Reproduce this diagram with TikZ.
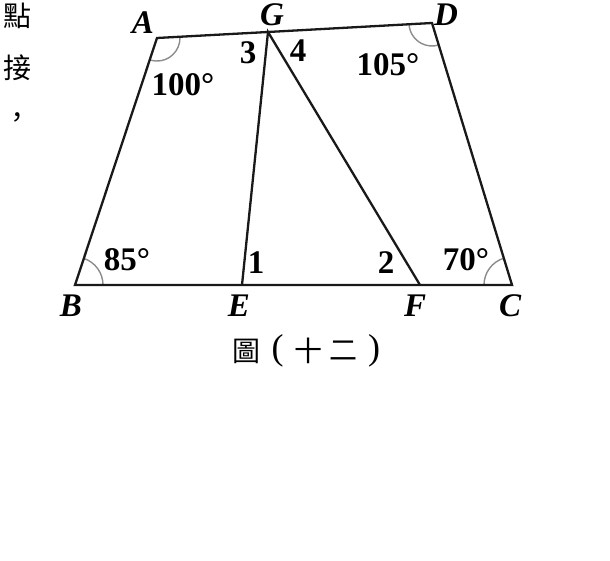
\documentclass[tikz,border=0pt]{standalone}
\usepackage{fontspec}
\setmainfont{Liberation Serif}
\newfontfamily\cjk{Noto Sans CJK TC}
\usetikzlibrary{angles}
\begin{document}
\begin{tikzpicture}[x=1pt,y=1pt,
  edge/.style={line width=2.3pt,black!90,line join=miter},
  arcmark/.style={draw=black!45,line width=1.4pt},
  num/.style={font=\fontsize{33}{33}\selectfont\bfseries,inner sep=0pt},
  vlabel/.style={font=\fontsize{33}{33}\selectfont\bfseries\itshape,inner sep=0pt},
  cjktext/.style={font=\cjk\fontsize{28}{28}\selectfont,inner sep=0pt},
  paren/.style={font=\fontsize{36}{36}\selectfont,inner sep=0pt}]
\useasboundingbox (0,0) rectangle (610,560);
\coordinate (A) at (157,522);
\coordinate (G) at (268,528);
\coordinate (D) at (432,537);
\coordinate (B) at (75,275);
\coordinate (E) at (242,275);
\coordinate (F) at (420,275);
\coordinate (C) at (512,275);
% angle marks
\pic[arcmark,angle radius=23pt] {angle=B--A--G};
\pic[arcmark,angle radius=23pt] {angle=G--D--C};
\pic[arcmark,angle radius=28pt] {angle=C--B--A};
\pic[arcmark,angle radius=28pt] {angle=D--C--B};
% edges
\draw[edge] (A) -- (G) -- (D) -- (C) -- (F) -- (E) -- (B) -- cycle;
\draw[edge] (E) -- (G) -- (F);
% vertex labels
\node[vlabel] (lA) at (143,537) {A};
\node[vlabel] (lG) at (272,545) {G};
\node[vlabel] (lD) at (446,545) {D};
\node[vlabel] (lB) at (71,254) {B};
\node[vlabel] (lE) at (239,254) {E};
\node[vlabel] (lF) at (415,254) {F};
\node[vlabel] (lC) at (510,254) {C};
% angle labels
\node[num] (a100) at (183,475) {100°};
\node[num] (a105) at (388,495) {105°};
\node[num] (a85) at (127,300) {85°};
\node[num] (a70) at (466,300) {70°};
\node[num] (n3) at (248,507) {3};
\node[num] (n4) at (298,509) {4};
\node[num] (n1) at (256,297) {1};
\node[num] (n2) at (386,297) {2};
% caption
\node[cjktext] (cap1) at (246.5,209) {圖};
\node[paren] (cap2) at (277.5,209) {(};
\node[cjktext] (cap3) at (308.5,209) {十};
\node[cjktext] (cap4) at (343.5,209) {二};
\node[paren] (cap5) at (374,209) {)};
% left fragments
\node[cjktext] (c1) at (17,544) {點};
\node[cjktext] (c2) at (17,492) {接};
\node[cjktext] (c3) at (17,440) {，};
\end{tikzpicture}
\end{document}
